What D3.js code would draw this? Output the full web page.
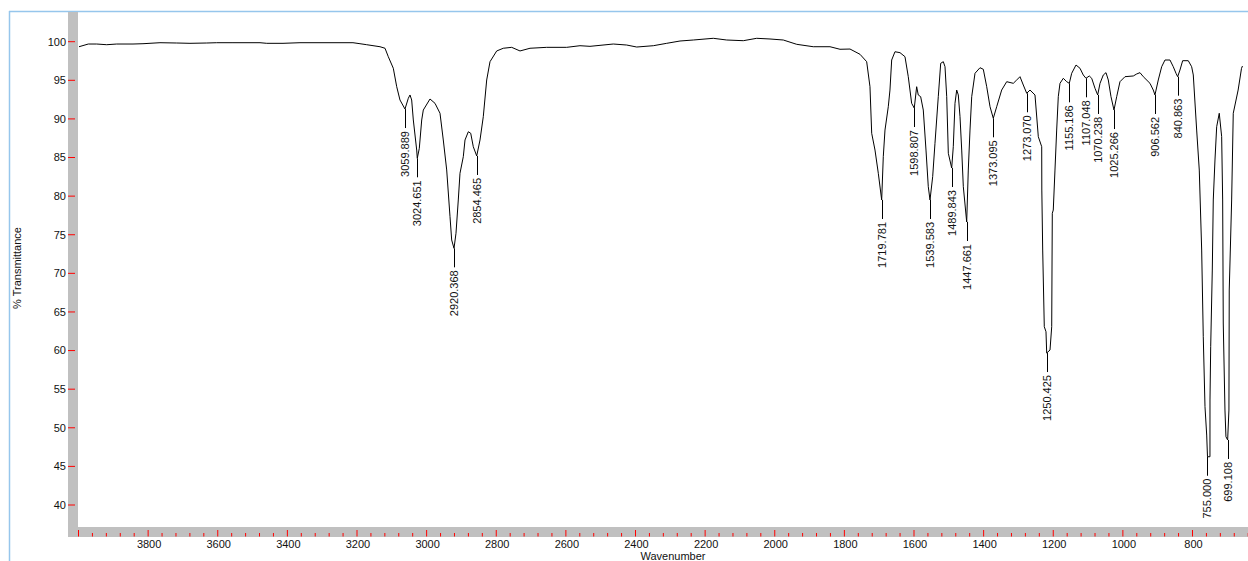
<!DOCTYPE html>
<html>
<head>
<meta charset="utf-8">
<script src="https://cdn.jsdelivr.net/npm/d3@7"></script>
<style>
  body { margin: 0; background: #fff; }
  text { font-family: "Liberation Sans", Arial, sans-serif; font-size: 11px; fill: #111; }
</style>
</head>
<body>
<div id="chart"></div>
<script>
// spectrum: [wavenumber, %T]
const spectrum = [
  [3997.1, 99.35], [3970.4, 99.70], [3946.3, 99.70], [3917.6, 99.61], [3888.8, 99.70], [3842.0, 99.70],
  [3813.3, 99.74], [3764.5, 99.87], [3716.5, 99.83], [3678.3, 99.79], [3630.3, 99.83], [3601.6, 99.87],
  [3554.8, 99.87], [3477.2, 99.87], [3457.9, 99.79], [3411.1, 99.79], [3362.3, 99.87], [3210.1, 99.87],
  [3190.0, 99.74], [3170.7, 99.61], [3132.5, 99.35], [3118.1, 99.15], [3108.7, 98.06], [3094.3, 96.56],
  [3084.5, 94.17], [3075.1, 92.45], [3060.7, 91.28], [3051.2, 92.67], [3046.3, 93.10], [3041.5, 92.45],
  [3036.8, 89.86], [3027.1, 85.97], [3025.4, 84.90], [3019.6, 86.19], [3012.7, 89.86], [3008.1, 91.15],
  [2988.9, 92.58], [2974.5, 92.02], [2960.1, 90.73], [2950.7, 87.27], [2940.9, 83.39], [2931.4, 77.34],
  [2926.6, 74.32], [2919.9, 73.24], [2914.2, 75.19], [2907.6, 79.50], [2902.7, 82.96], [2893.2, 85.11],
  [2888.3, 87.27], [2878.8, 88.34], [2871.9, 88.14], [2864.5, 86.40], [2854.7, 85.20], [2845.2, 87.27],
  [2835.8, 90.29], [2826.0, 95.04], [2816.5, 97.41], [2797.3, 98.80], [2778.3, 99.15], [2754.2, 99.27],
  [2730.3, 98.80], [2701.6, 99.15], [2653.6, 99.27], [2596.2, 99.27], [2558.0, 99.48], [2529.3, 99.40],
  [2462.3, 99.70], [2423.9, 99.57], [2395.1, 99.31], [2347.4, 99.48], [2308.9, 99.79], [2270.7, 100.09],
  [2232.5, 100.22], [2175.1, 100.44], [2136.6, 100.22], [2088.9, 100.13], [2050.4, 100.44], [2012.2, 100.35],
  [1974.0, 100.22], [1935.5, 99.66], [1887.9, 99.35], [1839.9, 99.35], [1811.1, 99.02], [1782.4, 99.05],
  [1753.7, 98.37], [1734.5, 97.41], [1725.0, 94.17], [1720.1, 88.14], [1710.6, 85.97], [1701.1, 82.96],
  [1691.4, 79.50], [1686.8, 85.11], [1681.9, 88.56], [1672.4, 91.58], [1667.6, 93.74], [1662.7, 97.63],
  [1653.2, 98.70], [1638.8, 98.58], [1624.5, 98.06], [1615.0, 95.47], [1605.3, 92.02], [1597.8, 91.41],
  [1590.9, 94.17], [1586.3, 93.10], [1579.4, 92.88], [1571.9, 91.15], [1564.1, 85.97], [1557.5, 81.22],
  [1552.6, 79.50], [1544.9, 82.52], [1538.3, 86.84], [1528.8, 92.88], [1521.9, 97.20], [1514.4, 97.41],
  [1509.5, 96.76], [1504.6, 92.88], [1500.0, 85.55], [1490.3, 83.64], [1485.7, 86.40], [1480.8, 92.02],
  [1475.9, 93.74], [1471.3, 93.10], [1466.4, 90.29], [1461.5, 85.97], [1456.9, 81.22], [1447.2, 76.65],
  [1442.6, 83.38], [1437.7, 88.56], [1432.8, 92.88], [1423.3, 95.91], [1409.0, 96.63], [1399.5, 96.43],
  [1389.7, 94.17], [1380.2, 91.58], [1370.8, 90.08], [1361.0, 91.58], [1346.7, 93.74], [1332.3, 94.82],
  [1313.3, 94.61], [1303.6, 95.04], [1294.1, 95.47], [1284.6, 94.39], [1274.8, 93.32], [1265.3, 93.74],
  [1251.0, 93.10], [1241.5, 87.70], [1231.7, 86.40], [1231.4, 80.79], [1228.9, 73.02], [1224.3, 63.09],
  [1219.4, 62.44], [1217.4, 59.68], [1207.9, 60.07], [1203.0, 63.09], [1201.3, 77.78], [1198.5, 78.20],
  [1193.6, 83.38], [1188.7, 88.56], [1184.1, 92.88], [1179.2, 94.61], [1169.7, 95.26], [1159.9, 94.82],
  [1152.5, 94.61], [1145.6, 95.91], [1133.2, 96.98], [1121.8, 96.56], [1112.3, 95.69], [1104.5, 95.26],
  [1095.0, 95.56], [1088.1, 95.26], [1078.6, 93.96], [1070.9, 93.10], [1064.2, 94.61], [1054.8, 95.69],
  [1047.0, 95.99], [1040.4, 95.04], [1032.7, 92.88], [1024.1, 91.15], [1016.3, 92.88], [1006.9, 94.82],
  [992.5, 95.47], [968.6, 95.56], [958.9, 95.82], [949.4, 95.99], [939.9, 95.47], [920.7, 94.61],
  [911.2, 93.74], [906.4, 93.10], [896.9, 95.04], [887.1, 96.76], [877.6, 97.63], [863.3, 97.63],
  [853.8, 96.76], [846.0, 95.91], [841.2, 95.47], [834.6, 96.33], [826.8, 97.54], [810.7, 97.54],
  [801.0, 96.76], [796.3, 95.69], [786.6, 88.56], [779.1, 83.38], [772.2, 73.02], [767.6, 61.79],
  [762.7, 52.73], [757.8, 49.06], [755.5, 46.25], [748.4, 46.25], [748.3, 53.60], [746.3, 60.50],
  [741.7, 70.43], [738.9, 79.50], [734.0, 84.68], [729.1, 88.99], [721.7, 90.73], [714.8, 87.70],
  [711.9, 79.50], [710.2, 63.57], [705.3, 52.30], [702.5, 48.84], [697.6, 48.42], [693.9, 52.30],
  [693.0, 67.84], [686.1, 79.50], [681.5, 90.73], [667.5, 93.74], [657.8, 96.55], [655.0, 96.85]
];

// peak picks: printed label and where the dip sits on the trace
const peakLabels = ["3059.889", "3024.651", "2920.368", "2854.465", "1719.781", "1598.807", "1539.583",
  "1489.843", "1447.661", "1373.095", "1273.070", "1250.425", "1155.186", "1107.048", "1070.238",
  "1025.266", "906.562", "840.863", "755.000", "699.108"];
const peakAt = [3060.7, 3025.4, 2919.9, 2854.7, 1691.4, 1597.8, 1552.6, 1490.3, 1447.2, 1370.8, 1274.8,
  1217.4, 1152.5, 1104.5, 1070.9, 1024.1, 906.4, 841.2, 755.5, 697.6];

const yTicks = [40, 45, 50, 55, 60, 65, 70, 75, 80, 85, 90, 95, 100];
const xLabelTicks = [3800, 3600, 3400, 3200, 3000, 2800, 2600, 2400, 2200, 2000, 1800, 1600, 1400, 1200, 1000, 800];

const W = 1248, H = 561;
const plot = { left: 78, top: 11, bottom: 527 };

const svg = d3.select("#chart")
  .append("svg")
  .attr("width", W)
  .attr("height", H);

const x = d3.scaleLinear().domain([4000, 800]).range([78, 1192]);
const y = d3.scaleLinear().domain([40, 100]).range([505, 41.7]);

// outer window frame
svg.append("line")
  .attr("x1", 9.5).attr("x2", 9.5).attr("y1", 11).attr("y2", H)
  .attr("stroke", "#96c6ec").attr("stroke-width", 1.5);
svg.append("line")
  .attr("x1", 9).attr("x2", W).attr("y1", 11.5).attr("y2", 11.5)
  .attr("stroke", "#96c6ec").attr("stroke-width", 1.5);

// gray axis bands
svg.append("rect")
  .attr("x", 68).attr("y", 12).attr("width", 10).attr("height", 537 - 12)
  .attr("fill", "#c0c0c0");
svg.append("rect")
  .attr("x", 68).attr("y", plot.bottom).attr("width", W - 68).attr("height", 10)
  .attr("fill", "#c0c0c0");

// Y axis ticks + labels
svg.selectAll(".ytick")
  .data(yTicks)
  .enter()
  .append("line")
  .attr("x1", 68).attr("x2", 75)
  .attr("y1", d => y(d)).attr("y2", d => y(d))
  .attr("stroke", "#ff0000");
svg.selectAll(".ylab")
  .data(yTicks)
  .enter()
  .append("text")
  .attr("x", 66)
  .attr("y", d => y(d))
  .attr("dy", "0.35em")
  .attr("text-anchor", "end")
  .text(d => d);

// X axis ticks: minor every 40, major every 200
const xMinor = d3.range(4000, 600, -40);
svg.selectAll(".xtick")
  .data(xMinor)
  .enter()
  .append("line")
  .attr("x1", d => x(d) + 0.5).attr("x2", d => x(d) + 0.5)
  .attr("y1", d => d % 200 === 0 ? 530 : 533)
  .attr("y2", 536.5)
  .attr("stroke", "#ff0000");
svg.selectAll(".xlab")
  .data(xLabelTicks)
  .enter()
  .append("text")
  .attr("x", d => x(d) + 1.5)
  .attr("y", 548)
  .attr("text-anchor", "middle")
  .text(d => d);

// axis titles
svg.append("text")
  .attr("x", 673)
  .attr("y", 560)
  .attr("text-anchor", "middle")
  .text("Wavenumber");
svg.append("text")
  .attr("transform", "rotate(-90)")
  .attr("x", -268)
  .attr("y", 17)
  .attr("dy", "0.35em")
  .attr("text-anchor", "middle")
  .text("% Transmittance");

// spectrum trace
svg.append("clipPath").attr("id", "clip")
  .append("rect")
  .attr("x", plot.left).attr("y", plot.top + 1)
  .attr("width", W - plot.left).attr("height", plot.bottom - plot.top - 1);

const line = d3.line()
  .x(d => x(d[0]))
  .y(d => y(d[1]));

svg.append("path")
  .datum(spectrum)
  .attr("clip-path", "url(#clip)")
  .attr("fill", "none")
  .attr("stroke", "#000")
  .attr("stroke-width", 1)
  .attr("d", line);

// peak markers: leader line under each dip + rotated value
const peaks = peakLabels.map((label, i) => {
  const hit = spectrum.reduce((a, b) => Math.abs(b[0] - peakAt[i]) < Math.abs(a[0] - peakAt[i]) ? b : a);
  return { label: label, wn: peakAt[i], t: hit[1] };
});

svg.selectAll(".leader")
  .data(peaks)
  .enter()
  .append("line")
  .attr("x1", d => Math.round(x(d.wn)) + 0.5)
  .attr("x2", d => Math.round(x(d.wn)) + 0.5)
  .attr("y1", d => y(d.t))
  .attr("y2", d => y(d.t) + 19)
  .attr("stroke", "#000");

svg.selectAll(".plabel")
  .data(peaks)
  .enter()
  .append("text")
  .attr("transform", d => "translate(" + (Math.round(x(d.wn)) + 0.5) + "," + (y(d.t) + 22) + ")rotate(-90)")
  .attr("dy", "0.35em")
  .attr("text-anchor", "end")
  .text(d => d.label);
</script>
</body>
</html>
